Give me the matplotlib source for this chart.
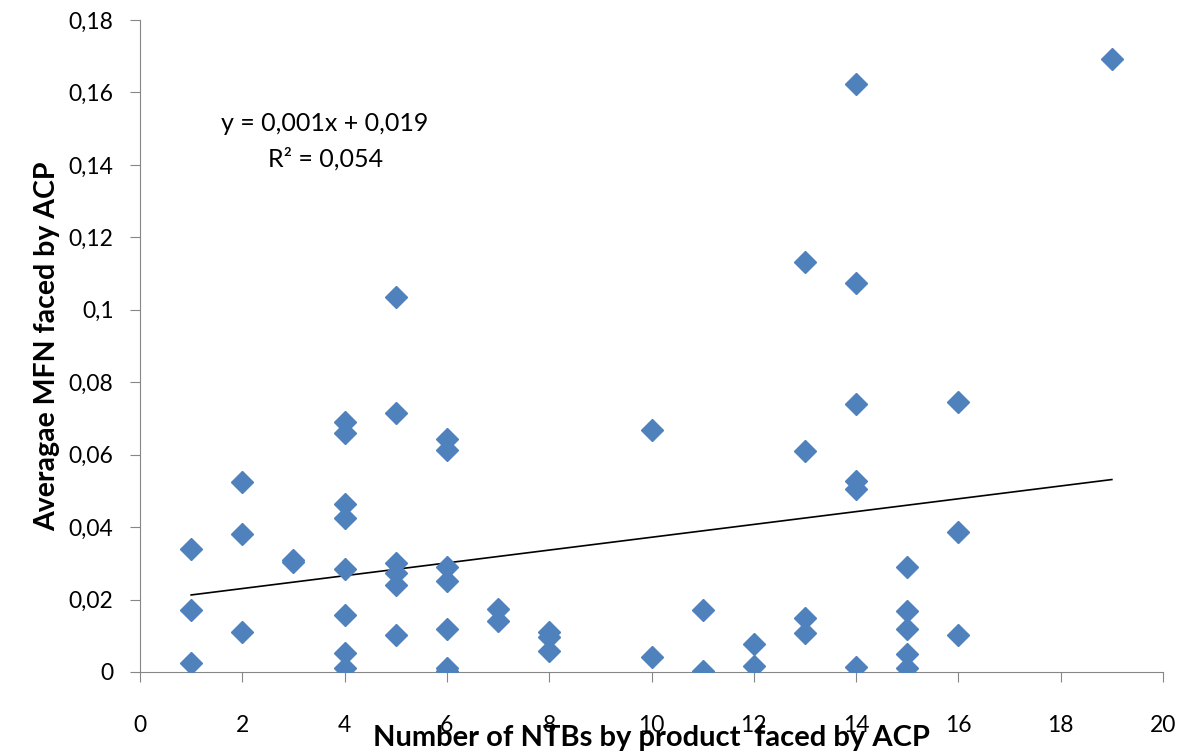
from matplotlib import pyplot as plt
from matplotlib.ticker import FuncFormatter
import numpy as np

plt.rcParams['figure.figsize'] = (11.86, 7.56)
plt.rcParams['figure.dpi'] = 100
plt.rcParams['font.family'] = 'Lato'

# Number of NTBs by product faced by ACP
ntbs = [1, 1, 1,
        2, 2, 2,
        3, 3,
        4, 4, 4, 4, 4, 4, 4, 4,
        5, 5, 5, 5, 5, 5,
        6, 6, 6, 6, 6, 6, 6,
        7, 7,
        8, 8, 8,
        10, 10,
        11, 11,
        12, 12,
        13, 13, 13, 13,
        14, 14, 14, 14, 14, 14,
        15, 15, 15, 15, 15,
        16, 16, 16,
        19]
# Average MFN faced by ACP
mfn = [0.034, 0.017, 0.0025,
       0.0525, 0.0382, 0.011,
       0.031, 0.0305,
       0.0689, 0.0660, 0.0465, 0.0426, 0.0285, 0.0158, 0.0053, 0.0010,
       0.1035, 0.0716, 0.0302, 0.0272, 0.0240, 0.0102,
       0.0644, 0.0612, 0.0290, 0.0250, 0.0120, 0.0012, 0.0003,
       0.0174, 0.0142,
       0.0110, 0.0097, 0.0057,
       0.0669, 0.0041,
       0.0172, 0.0003,
       0.0077, 0.0017,
       0.1131, 0.0610, 0.0149, 0.0109,
       0.1623, 0.1073, 0.0741, 0.0526, 0.0505, 0.0014,
       0.0290, 0.0168, 0.0120, 0.0050, 0.0012,
       0.0745, 0.0387, 0.0102,
       0.1693]

# trendline as drawn in the original chart
trend_slope = 0.00177
trend_intercept = 0.0195

fig = plt.figure()
ax = fig.add_axes([140/1186, 84/756, 1023/1186, 652/756])

ax.plot(ntbs, mfn, linestyle='none', marker='D', markersize=11.7,
        color='#4F81BD', zorder=3)

xs = np.array([min(ntbs), max(ntbs)])
ax.plot(xs, trend_slope * xs + trend_intercept, color='black', linewidth=1.2, zorder=2)

ax.text(3.62, 0.1515, 'y = 0,001x + 0,019', ha='center', va='center', fontsize=18)
ax.text(3.62, 0.1418, 'R² = 0,054', ha='center', va='center', fontsize=18)

ax.set_xlim(0, 20)
ax.set_ylim(0, 0.18)
ax.set_xticks(np.arange(0, 21, 2))
ax.set_yticks(np.arange(0, 0.181, 0.02))
ax.yaxis.set_major_formatter(FuncFormatter(
    lambda v, p: ('%g' % round(v, 2)).replace('.', ',')))

for s in ['top', 'right']:
    ax.spines[s].set_visible(False)
for s in ['left', 'bottom']:
    ax.spines[s].set_color('#868686')
ax.tick_params(axis='both', direction='out', color='#868686', length=7)
ax.tick_params(axis='y', labelsize=16.5, pad=12)
ax.tick_params(axis='x', labelsize=16.5, pad=24)

ax.set_xlabel('Number of NTBs by product  faced by ACP', fontsize=21,
              fontweight='bold', labelpad=-8)
ax.set_ylabel('Averagae MFN faced by ACP', fontsize=20.5, fontweight='bold',
              labelpad=6)

plt.savefig('out.png')
